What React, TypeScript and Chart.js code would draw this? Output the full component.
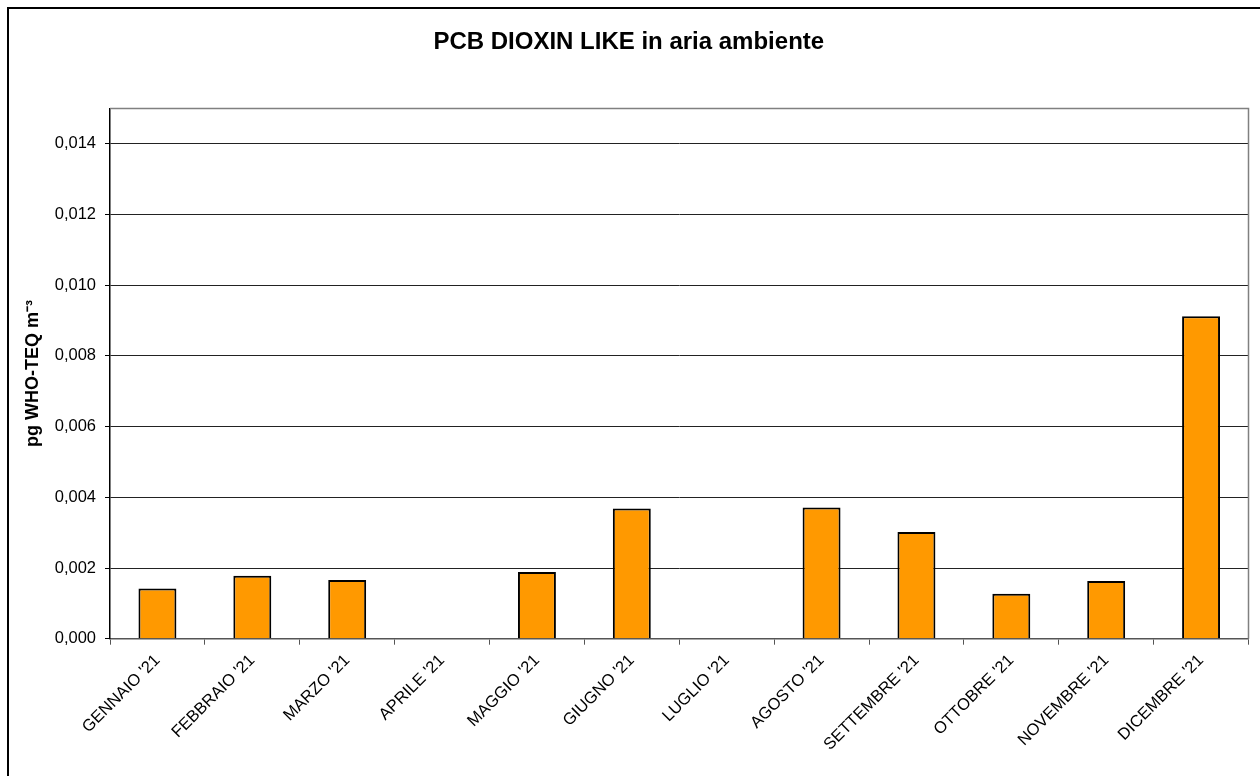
import React, { useEffect, useRef } from "react";
import { Chart, registerables } from "chart.js";

Chart.register(...registerables);

const categories: string[] = [
  "GENNAIO '21",
  "FEBBRAIO '21",
  "MARZO '21",
  "APRILE '21",
  "MAGGIO '21",
  "GIUGNO '21",
  "LUGLIO '21",
  "AGOSTO '21",
  "SETTEMBRE '21",
  "OTTOBRE '21",
  "NOVEMBRE '21",
  "DICEMBRE '21",
];

const pcbValues: (number | null)[] = [
  0.00142, 0.00178, 0.00166, null, 0.00189, 0.00368, null, 0.00371, 0.00302,
  0.001275, 0.00163, 0.00912,
];

const yTickValues: number[] = [0, 0.002, 0.004, 0.006, 0.008, 0.01, 0.012, 0.014];

const chartTitle = "PCB DIOXIN LIKE in aria ambiente";
const yAxisTitle = "pg WHO-TEQ m\u207B\u00B3";

const FONT = "'Liberation Sans', Arial, sans-serif";
const W = 1262;
const H = 780;

const plotFrame = {
  id: "plotFrame",
  afterDraw(chart: any) {
    const { ctx, chartArea } = chart;
    ctx.save();
    ctx.strokeStyle = "#808080";
    ctx.lineWidth = 1.5;
    ctx.beginPath();
    ctx.moveTo(chartArea.left, chartArea.top);
    ctx.lineTo(chartArea.right, chartArea.top);
    ctx.lineTo(chartArea.right, chartArea.bottom);
    ctx.stroke();
    ctx.restore();
  },
};

export default function App() {
  const ref = useRef<HTMLCanvasElement | null>(null);

  useEffect(() => {
    if (!ref.current) return;
    const chart = new Chart(ref.current, {
      type: "bar",
      data: {
        labels: categories,
        datasets: [
          {
            data: pcbValues as any,
            backgroundColor: "#FF9900",
            borderColor: "#000000",
            borderWidth: 2,
            barPercentage: 0.4,
            categoryPercentage: 1,
          },
        ],
      },
      options: {
        responsive: false,
        animation: false,
        layout: { padding: { left: 0, right: 22.5, top: 0, bottom: 0 } },
        plugins: {
          legend: { display: false },
          tooltip: { enabled: false },
          title: {
            display: true,
            text: chartTitle,
            color: "#000",
            font: { family: FONT, size: 24, weight: "bold" },
            padding: { top: 18.6, bottom: 52.1 },
          },
        },
        scales: {
          x: {
            offset: true,
            grid: {
              offset: true,
              drawOnChartArea: false,
              drawTicks: true,
              tickLength: 6,
              color: "#555",
            },
            border: { display: true, color: "#555", width: 1.5 },
            ticks: {
              autoSkip: false,
              maxRotation: 45,
              minRotation: 45,
              color: "#000",
              padding: 6,
              font: { family: FONT, size: 16.5 },
            },
            afterFit(scale: any) {
              scale.height = H - 629.7;
            },
          },
          y: {
            min: 0,
            max: 0.015,
            afterBuildTicks(scale: any) {
              scale.ticks = yTickValues.map((v) => ({ value: v }));
            },
            grid: {
              color: "#222",
              lineWidth: 1,
              drawTicks: true,
              tickLength: 5,
              tickColor: "#000",
            },
            border: { display: true, color: "#000", width: 1.5 },
            ticks: {
              color: "#000",
              padding: 9,
              font: { family: FONT, size: 16.5 },
              callback: (v: any) => Number(v).toFixed(3).replace(".", ","),
            },
            title: {
              display: true,
              text: yAxisTitle,
              color: "#000",
              font: { family: FONT, size: 18, weight: "bold" },
              padding: { top: 13.7, bottom: 0 },
            },
            afterFit(scale: any) {
              scale.width = 101;
            },
          },
        },
      },
      plugins: [plotFrame],
    });
    return () => chart.destroy();
  }, []);

  return (
    <div
      style={{
        position: "absolute",
        left: 7,
        top: 7,
        width: W,
        height: H,
        border: "2px solid #000",
        background: "#fff",
      }}
    >
      <canvas ref={ref} width={W} height={H} style={{ display: "block", width: W, height: H }} />
    </div>
  );
}
